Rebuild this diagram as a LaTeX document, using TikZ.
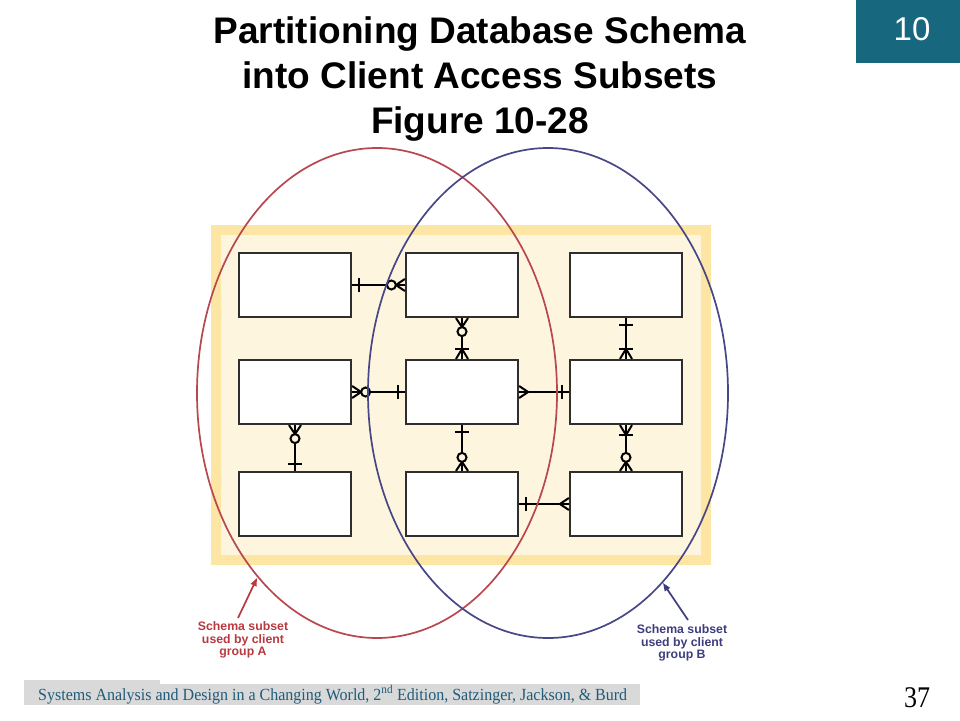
\documentclass[tikz,border=0pt]{standalone}
\usepackage{fontspec}
\setmainfont{Liberation Serif}
\newfontfamily\arialf{Liberation Sans}
\usetikzlibrary{arrows.meta}
\definecolor{bandY}{HTML}{FDE5A4}
\definecolor{creamY}{HTML}{FEF5DE}
\definecolor{boxline}{HTML}{2E2E2E}
\definecolor{redE}{HTML}{B8474F}
\definecolor{blueE}{HTML}{474787}
\definecolor{redT}{HTML}{B83A40}
\definecolor{blueT}{HTML}{3E3E7E}
\definecolor{tealbox}{HTML}{17677F}
\definecolor{footgrey}{HTML}{D9D9D9}
\definecolor{footT}{HTML}{1F5C7A}
\newcommand\mkone[2]{\begin{scope}[shift={(#1)},rotate=#2]\draw[rel] (7,-7) -- (7,7);\end{scope}}
\newcommand\mkzm[2]{\begin{scope}[shift={(#1)},rotate=#2]\draw[rel] (0,6) -- (9,0) -- (0,-6);\draw[rel,fill=creamY] (13.5,0) circle[radius=4.5];\end{scope}}
\newcommand\mkom[2]{\begin{scope}[shift={(#1)},rotate=#2]\draw[rel] (0,6) -- (10,0) -- (0,-6);\draw[rel] (10,-7) -- (10,7);\end{scope}}
\newcommand\mkmany[2]{\begin{scope}[shift={(#1)},rotate=#2]\draw[rel] (0,6) -- (9,0) -- (0,-6);\end{scope}}
\begin{document}
\begin{tikzpicture}[x=1pt,y=-1pt,
  rel/.style={line width=2pt, draw=black},
  entity/.style={draw=boxline, line width=2.2pt, fill=white, minimum width=112pt, minimum height=64pt, inner sep=0pt},
  titletext/.style={font=\arialf\bfseries\fontsize{37}{45}\selectfont, anchor=base, inner sep=0pt},
  labtext/.style={font=\arialf\bfseries\fontsize{12.3}{12.5}\selectfont, align=center, inner sep=0pt},
  pointer/.style={line width=1.7pt, -{Triangle[length=8pt,width=6pt]}}
]
\useasboundingbox (0,0) rectangle (960,720);
\fill[white] (0,0) rectangle (960,720);
% title
\node[titletext] (t1) at (480,43) {Partitioning Database Schema};
\node[titletext] (t2) at (480,88) {into Client Access Subsets};
\node[titletext] (t3) at (480,133) {Figure 10-28};
% chapter tab
\fill[tealbox] (856,0) rectangle (960,63);
\node[font=\arialf\fontsize{33}{36}\selectfont, text=white, inner sep=0pt] (ch) at (912,29) {10};
% background
\fill[bandY] (211,225) rectangle (711,565);
\fill[creamY] (221,235) rectangle (701,555);
% entities
\node[entity] (A1) at (295,285) {};
\node[entity] (B1) at (462,285) {};
\node[entity] (C1) at (626,285) {};
\node[entity] (A2) at (295,392) {};
\node[entity] (B2) at (462,392) {};
\node[entity] (C2) at (626,392) {};
\node[entity] (A3) at (295,504) {};
\node[entity] (B3) at (462,504) {};
\node[entity] (C3) at (626,504) {};
% relationships
\draw[rel] (A1) -- (B1);
\mkone{A1.east}{0}\mkzm{B1.west}{180}
\draw[rel] (B1) -- (B2);
\mkzm{B1.south}{-90}\mkom{B2.north}{90}
\draw[rel] (A2) -- (B2);
\mkzm{A2.east}{0}\mkone{B2.west}{180}
\draw[rel] (B2) -- (C2);
\mkmany{B2.east}{0}\mkone{C2.west}{180}
\draw[rel] (C1) -- (C2);
\mkone{C1.south}{-90}\mkom{C2.north}{90}
\draw[rel] (A2) -- (A3);
\mkzm{A2.south}{-90}\mkone{A3.north}{90}
\draw[rel] (B2) -- (B3);
\mkone{B2.south}{-90}\mkzm{B3.north}{90}
\draw[rel] (C2) -- (C3);
\mkom{C2.south}{-90}\mkzm{C3.north}{90}
\draw[rel] (B3) -- (C3);
\mkone{B3.east}{0}\mkmany{C3.west}{180}
% subsets
\draw[redE, line width=1.7pt] (377,393) ellipse [x radius=180, y radius=245];
\draw[blueE, line width=1.7pt] (548,393) ellipse [x radius=180, y radius=245];
% labels
\node[labtext, text=redT] (la) at (243,640) {Schema subset\\used by client\\group A};
\node[labtext, text=blueT] (lb) at (682,643) {Schema subset\\used by client\\group B};
\coordinate (tipA) at (257,578);
\coordinate (tailA) at (238,618);
\coordinate (tipB) at (663,583);
\coordinate (tailB) at (688,620);
\draw[pointer, redT] (tailA) -- (tipA);
\draw[pointer, blueT] (tailB) -- (tipB);
% footer
\fill[footgrey] (24,680) rectangle (160,684);
\fill[footgrey] (24,684) rectangle (640,705);
\node[anchor=base west, inner sep=0pt, text=footT, font=\fontsize{17}{18}\selectfont] (foot) at (38,700)
  {\resizebox{589pt}{\height}{Systems Analysis and Design in a Changing World, 2\textsuperscript{nd} Edition, Satzinger, Jackson, \& Burd}};
\node[anchor=base, inner sep=0pt, font=\fontsize{30}{31}\selectfont] (pg) at (917,707) {\resizebox{26pt}{\height}{37}};
\end{tikzpicture}
\end{document}
